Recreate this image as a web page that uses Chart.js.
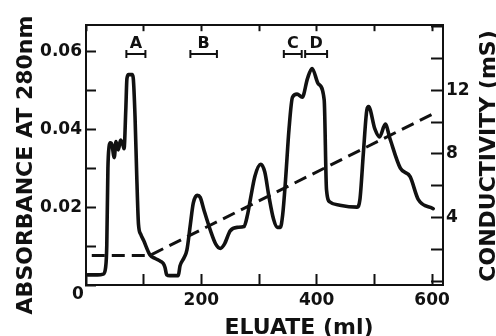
<!DOCTYPE html>
<html>
<head>
<meta charset="utf-8">
<script src="https://cdn.jsdelivr.net/npm/chart.js@4.4.0/dist/chart.umd.min.js"></script>
<style>
  body { margin: 0; background: #fff; }
  #cntElution_wrap { width: 496px; height: 336px; }
</style>
</head>
<body>
<div id="cntElution_wrap"><canvas id="cntElution" width="496" height="336"></canvas></div>
<script>
  // absorbance trace (ml, A280)
  const eluateMl = [3, 20, 30, 34, 36, 38, 40, 42, 45, 49, 52, 56, 60, 64, 66, 69, 71, 74, 80, 82, 85, 88, 91, 95, 100,
    111, 120, 129, 134, 137, 140, 145, 160, 163, 170, 175, 181, 186, 193, 198, 205, 216, 225, 233, 240, 250,
    262, 274, 280, 285, 293, 303, 310, 317, 325, 332, 337, 341, 346, 352, 358, 366, 375, 384, 392, 403, 413,
    417, 423, 440, 470, 475, 481, 487, 490, 501, 509, 519, 527, 545, 562, 576, 602];
  const absorbance280 = [0.0026, 0.0026, 0.0028, 0.0045, 0.010, 0.030, 0.0355, 0.0365, 0.036, 0.0327, 0.0368, 0.0347, 0.0372, 0.036, 0.035, 0.045, 0.053, 0.054, 0.054, 0.053, 0.0433, 0.028, 0.0156, 0.013, 0.0114,
    0.0077, 0.0068, 0.0061, 0.0055, 0.0045, 0.0026, 0.0024, 0.0024, 0.0049, 0.007, 0.009, 0.0156, 0.021, 0.023, 0.0225, 0.019, 0.0139, 0.0105, 0.0094, 0.0105, 0.0139,
    0.0148, 0.015, 0.018, 0.022, 0.028, 0.031, 0.029, 0.0229, 0.017, 0.0148, 0.0148, 0.018, 0.027, 0.040, 0.0482, 0.049, 0.0482, 0.053, 0.0556, 0.0516, 0.0475,
    0.0245, 0.0213, 0.0205, 0.020, 0.022, 0.034, 0.045, 0.0458, 0.040, 0.038, 0.0413, 0.0376, 0.030, 0.0278, 0.022, 0.0196];

  // gradient (ml, mS)
  const gradientMl = [10, 110, 606];
  const conductivityMs = [1.6, 1.6, 10.6];

  // pooled fractions
  const fractionNames = ['A', 'B', 'C', 'D'];
  const fractionFrom = [70, 181, 343, 380];
  const fractionTo = [103, 227, 374, 418];
  const fractionLevel = 0.0593;

  // labelled ticks
  const eluateLabels = [200, 400, 600];
  const absLabels = [0.02, 0.04, 0.06];
  const condLabels = [4, 8, 12];

  const FONT = '"DejaVu Sans", sans-serif';
  const INK = '#111';

  const _fractionPts = [];
  fractionNames.forEach(function(n, i) {
    _fractionPts.push({x: fractionFrom[i], y: fractionLevel});
    _fractionPts.push({x: fractionTo[i], y: fractionLevel});
    _fractionPts.push({x: fractionTo[i] + 1, y: null});
  });

  const textPlugin = {
    id: 'elutionText',
    afterDraw: function(chart) {
      const ctx = chart.ctx, a = chart.chartArea;
      const xs = chart.scales.x, ys = chart.scales.y;
      ctx.save();
      ctx.fillStyle = INK;

      // fraction letters
      ctx.font = 'bold 16px ' + FONT;
      ctx.textAlign = 'center';
      ctx.textBaseline = 'alphabetic';
      fractionNames.forEach(function(n, i) {
        const px = xs.getPixelForValue((fractionFrom[i] + fractionTo[i]) / 2);
        ctx.fillText(n, px, ys.getPixelForValue(fractionLevel) - 6);
      });

      // origin
      ctx.font = 'bold 17px ' + FONT;
      ctx.textBaseline = 'middle';
      ctx.fillText('0', a.left - 8, a.bottom + 10);

      // axis titles
      ctx.font = 'bold 22px ' + FONT;
      ctx.textBaseline = 'alphabetic';
      ctx.fillText('ELUATE (ml)', 299, 334);

      ctx.save();
      ctx.translate(32, 165);
      ctx.rotate(-Math.PI / 2);
      ctx.fillText('ABSORBANCE AT 280nm', 0, 0);
      ctx.restore();

      ctx.save();
      ctx.translate(495, 156);
      ctx.rotate(-Math.PI / 2);
      ctx.fillText('CONDUCTIVITY (mS)', 0, 0);
      ctx.restore();

      ctx.restore();
    }
  };

  const tickFont = {family: FONT, size: 17, weight: 'bold'};

  const config = {
    type: 'line',
    data: {
      datasets: [{
        label: 'A280',
        data: eluateMl.map(function(x, i) { return {x: x, y: absorbance280[i]}; }),
        yAxisID: 'y',
        borderColor: INK,
        borderWidth: 3.6,
        pointRadius: 0,
        cubicInterpolationMode: 'monotone',
        borderCapStyle: 'round',
        borderJoinStyle: 'round'
      }, {
        label: 'Conductivity',
        data: gradientMl.map(function(x, i) { return {x: x, y: conductivityMs[i]}; }),
        yAxisID: 'y2',
        borderColor: INK,
        borderWidth: 3,
        borderDash: [13, 7],
        pointRadius: 0,
        tension: 0
      }, {
        label: 'Fractions',
        data: _fractionPts,
        yAxisID: 'y',
        borderColor: INK,
        borderWidth: 2,
        spanGaps: false,
        pointStyle: 'line',
        pointRotation: 90,
        pointRadius: 4,
        pointBorderWidth: 2,
        pointBorderColor: INK
      }]
    },
    options: {
      responsive: false,
      animation: false,
      layout: { padding: 0 },
      plugins: { legend: { display: false }, tooltip: { enabled: false } },
      scales: {
        x: {
          type: 'linear', position: 'bottom', min: 0, max: 619,
          afterFit: function(s) { s.height = 51; },
          border: { color: INK, width: 2 },
          grid: { drawOnChartArea: false, tickLength: -11, tickColor: INK, tickWidth: 2 },
          ticks: {
            stepSize: 100, includeBounds: false, padding: 16, color: INK, font: tickFont,
            maxRotation: 0, autoSkip: false,
            callback: function(v) { return eluateLabels.indexOf(v) >= 0 ? String(v) : ''; }
          }
        },
        xTop: {
          type: 'linear', position: 'top', min: 0, max: 619,
          afterFit: function(s) { s.height = 15; },
          border: { color: INK, width: 2 },
          grid: { drawOnChartArea: false, tickLength: -6, tickColor: INK, tickWidth: 2 },
          ticks: { stepSize: 100, includeBounds: false, display: false }
        },
        y: {
          type: 'linear', position: 'left', min: 0, max: 0.0667,
          afterFit: function(s) { s.width = 86; },
          border: { color: INK, width: 2 },
          grid: { drawOnChartArea: false, tickLength: -10, tickColor: INK, tickWidth: 2 },
          ticks: {
            stepSize: 0.01, includeBounds: false, padding: 14, color: INK, font: tickFont,
            callback: function(v) {
              return absLabels.some(function(a) { return Math.abs(a - v) < 1e-9; }) ? v.toFixed(2) : '';
            }
          }
        },
        y2: {
          type: 'linear', position: 'right', min: -0.25, max: 16.1,
          afterFit: function(s) { s.width = 53; },
          border: { color: INK, width: 2 },
          grid: { drawOnChartArea: false, tickLength: -12, tickColor: INK, tickWidth: 2 },
          ticks: {
            stepSize: 2, includeBounds: false, padding: 15, color: INK, font: tickFont,
            callback: function(v) { return condLabels.indexOf(v) >= 0 ? String(v) : ''; }
          }
        }
      }
    },
    plugins: [textPlugin]
  };

  const ctx = document.getElementById('cntElution').getContext('2d');
  window.cntElution_Grafica = new Chart(ctx, config);
</script>
</body>
</html>
